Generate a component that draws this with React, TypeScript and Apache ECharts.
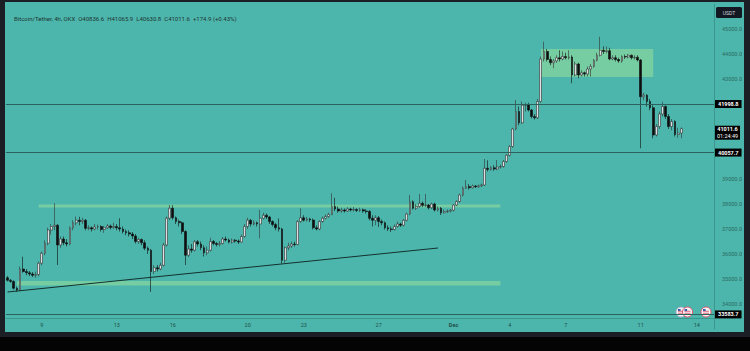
import React, { useEffect, useRef } from 'react';
import * as echarts from 'echarts';

// OHLC candles, 4h, each tuple = [open, close, low, high]
const nov07to10 = [
  [35050, 34950, 34900, 35120], [34950, 34900, 34850, 35000], [34900, 34630, 34580, 34950], [34630, 34560, 34480, 34700], [34560, 35400, 34520, 35500],
  [35400, 35300, 35250, 35890], [35300, 35250, 35150, 35400], [35250, 35200, 35120, 35320], [35200, 35150, 35080, 35280], [35150, 35180, 35050, 35300], [35180, 35630, 35100, 35700],
  [35630, 36030, 35550, 36100], [36030, 36430, 35950, 36550], [36430, 36960, 36350, 37050], [36960, 37100, 36780, 37200], [37100, 37150, 36950, 38030], [37150, 36360, 35560, 37200],
  [36360, 36600, 36250, 36700], [36600, 36450, 36350, 36700], [36450, 36400, 36300, 36600], [36400, 37050, 36350, 37100], [37050, 37250, 36950, 37350], [37250, 37350, 37150, 37500],
];
const nov11to14 = [
  [37350, 37300, 37150, 37490], [37300, 37350, 37200, 37450], [37350, 37030, 36950, 37400], [37030, 37050, 36950, 37150], [37050, 37000, 36900, 37100], [37000, 37080, 36950, 37200],
  [37080, 37100, 36980, 37180], [37100, 36980, 36900, 37150], [36980, 37050, 36850, 37120], [37050, 37120, 37000, 37200], [37120, 37060, 36980, 37180], [37060, 37100, 37000, 37250],
  [37100, 37050, 36950, 37200], [37050, 37000, 36900, 37430], [37000, 36900, 36820, 37100], [36900, 36850, 36750, 36980], [36850, 36800, 36700, 36950], [36800, 36720, 36600, 36880],
  [36720, 36500, 36420, 36800], [36500, 36580, 36400, 36650], [36580, 36450, 36350, 36620], [36450, 36230, 36150, 36550], [36230, 36150, 36000, 36300], [36150, 35300, 34490, 36200],
];
const nov15to18 = [
  [35300, 35450, 35200, 35550], [35450, 35400, 35300, 35560], [35400, 35550, 35350, 35650], [35550, 36360, 35500, 36450], [36360, 37430, 36300, 37500], [37430, 37830, 37350, 37960],
  [37830, 37450, 37380, 37950], [37450, 37300, 37200, 37500], [37300, 37250, 37100, 37380], [37250, 36900, 36800, 37300], [36900, 35950, 35560, 36950], [35950, 36200, 35880, 36350],
  [36200, 36150, 36050, 36400], [36150, 36490, 36100, 36560], [36490, 36400, 36300, 36560], [36400, 36250, 36150, 36500], [36250, 36050, 35900, 36350], [36050, 36150, 35950, 36300],
  [36150, 36500, 36100, 36650], [36500, 36420, 36350, 36560], [36420, 36380, 36300, 36480], [36380, 36420, 36300, 36520], [36420, 36600, 36380, 36680], [36600, 36560, 36500, 36700],
];
const nov19to22 = [
  [36560, 36480, 36420, 36620], [36480, 36550, 36420, 36620], [36550, 36520, 36450, 36600], [36520, 36480, 36400, 36580], [36480, 36700, 36450, 36780], [36700, 37100, 36650, 37200],
  [37100, 37350, 37000, 37450], [37350, 37200, 37100, 37400], [37200, 37250, 37150, 37350], [37250, 37200, 37100, 37300], [37200, 37430, 36630, 37760], [37430, 37550, 37380, 37650],
  [37550, 37480, 37400, 37620], [37480, 37300, 37200, 37520], [37300, 37180, 37100, 37350], [37180, 37050, 36950, 37250], [37050, 37000, 36900, 37420], [37000, 35750, 35620, 37050],
  [35750, 36250, 35650, 36300], [36250, 36320, 36150, 36450], [36320, 36400, 36250, 36500], [36400, 36380, 36300, 36500], [36380, 37300, 36350, 37350], [37300, 37450, 37250, 37830],
];
const nov23to26 = [
  [37450, 37350, 37300, 37550], [37350, 37400, 37300, 37480], [37400, 37360, 37280, 37450], [37360, 37050, 36980, 37420], [37050, 37000, 36950, 37150], [37000, 37300, 36950, 37350],
  [37300, 37430, 37250, 37500], [37430, 37500, 37380, 37580], [37500, 37580, 37450, 37650], [37580, 37900, 37550, 38430], [37900, 37800, 37720, 38250], [37800, 37720, 37650, 37900],
  [37720, 37760, 37650, 37850], [37760, 37720, 37660, 37820], [37720, 37800, 37680, 37870], [37800, 37760, 37700, 37850], [37760, 37780, 37700, 37880], [37780, 37740, 37680, 37830],
  [37740, 37770, 37680, 37850], [37770, 37720, 37650, 37820], [37720, 37700, 37620, 37790], [37700, 37430, 37350, 37760], [37430, 37350, 37100, 37550], [37350, 37450, 37150, 37550],
];
const nov27to30 = [
  [37450, 37300, 37080, 37520], [37300, 37250, 37150, 37380], [37250, 37050, 36980, 37300], [37050, 37000, 36920, 37150], [37000, 36980, 36880, 37100], [36980, 37100, 36940, 37180],
  [37100, 37200, 37050, 37300], [37200, 37150, 37080, 37250], [37150, 37350, 37100, 37400], [37350, 37600, 37300, 37650], [37600, 38090, 37550, 38360], [38090, 37830, 37780, 38150],
  [37830, 37900, 37760, 38000], [37900, 38030, 37850, 38400], [38030, 37950, 37880, 38100], [37950, 37960, 37880, 38400], [37960, 37850, 37780, 38000], [37850, 38000, 37800, 38050],
  [38000, 37760, 37700, 38050], [37760, 37830, 37700, 37900], [37830, 37650, 37560, 37880], [37650, 37700, 37620, 37780], [37700, 37720, 37640, 37780], [37720, 37750, 37660, 37800],
];
const dec01to04 = [
  [37750, 37960, 37700, 38000], [37960, 38100, 37920, 38150], [38100, 38360, 38050, 38420], [38360, 38630, 38300, 38700], [38630, 38700, 38600, 38960], [38700, 38650, 38580, 38800],
  [38650, 38720, 38620, 38780], [38720, 38690, 38640, 38760], [38690, 38730, 38650, 38780], [38730, 38760, 38680, 38820], [38760, 39430, 38720, 39800], [39430, 39380, 39300, 39750],
  [39380, 39450, 39330, 39520], [39450, 39400, 39330, 39550], [39400, 39480, 39350, 39760], [39480, 39500, 39420, 39580], [39500, 39700, 39450, 39760], [39700, 39950, 39650, 40000],
  [39950, 40300, 39900, 40350], [40300, 41000, 40250, 41050], [41000, 41700, 40950, 42160], [41700, 41250, 41150, 41900], [41250, 41950, 41200, 42100], [41950, 41960, 41700, 42050],
];
const dec05to08 = [
  [41960, 41760, 41700, 42050], [41760, 41500, 41420, 41800], [41500, 41450, 41380, 41600], [41450, 42100, 41400, 42200], [42100, 43800, 42050, 43900], [43800, 44100, 43700, 44490],
  [44100, 43780, 43700, 44200], [43780, 43650, 43550, 43900], [43650, 43720, 43430, 43800], [43720, 43850, 43650, 43950], [43850, 43800, 43700, 44150], [43800, 43900, 43750, 44100],
  [43900, 43850, 43780, 44050], [43850, 43880, 43780, 44150], [43880, 43160, 42830, 43950], [43160, 43600, 43100, 43700], [43600, 43160, 43030, 43650], [43160, 43250, 43100, 43350],
  [43250, 43200, 43100, 43300], [43200, 43400, 43100, 43500], [43400, 43500, 43100, 43600], [43500, 43750, 43450, 43800], [43750, 43950, 43700, 44050], [43950, 44150, 43900, 44690],
];
const dec09to13 = [
  [44150, 44100, 44000, 44300], [44100, 44130, 44030, 44300], [44130, 43800, 43750, 44250], [43800, 43850, 43750, 43950], [43850, 43780, 43700, 43950], [43780, 43720, 43650, 43850],
  [43720, 43900, 43650, 43950], [43900, 43880, 43800, 43980], [43880, 43950, 43830, 44000], [43950, 43850, 43780, 43980], [43850, 43870, 43780, 43950], [43870, 43760, 43700, 43950],
  [43760, 42290, 40230, 43800], [42290, 42350, 42150, 42450], [42350, 42100, 41900, 42400], [42100, 41850, 41750, 42200], [41850, 40760, 40630, 41950], [40760, 41100, 40700, 41200],
  [41100, 41600, 41000, 41700], [41600, 41900, 41500, 42090], [41900, 41500, 41400, 41950], [41500, 41100, 41000, 41600], [41100, 41300, 40950, 41400], [41300, 40780, 40700, 41350],
  [40780, 40836.6, 40650, 41050], [40836.6, 41011.6, 40630.8, 41065.9],
];

const header = 'Bitcoin/Tether, 4h, OKX  O40836.6  H41065.9  L40630.8  C41011.6  +174.9 (+0.43%)';
const priceLines = [41998.8, 40057.7, 33583.7];
const lastPrice = 41011.6;
const countdown = '01:24:49';
const hiddenPriceTicks = [33000, 40000, 41000, 42000, 46000];
const xTickKeys = ['11-09', '11-13', '11-16', '11-20', '11-23', '11-27', '12-01', '12-04', '12-07', '12-11', '12-14'];
const xTickText = ['9', '13', '16', '20', '23', '27', 'Dec', '4', '7', '11', '14'];
// zones: [startIndex, endIndex, upperPrice, lowerPrice]
const zones = [
  [10, 158, 37985, 37860],
  [3, 158, 34920, 34740],
  [171, 207, 44200, 43080],
];
// trendline: [index, price] pairs
const trendStart = [0, 34480];
const trendEnd = [138, 36240];

const TEAL = '#4db6ac';
const FONT = 'Roboto, "Liberation Sans", sans-serif';

function buildCategories(count: number) {
  const out: string[] = [];
  const start = Date.UTC(2023, 10, 7, 4);
  for (let i = 0; i < count; i++) {
    const d = new Date(start + i * 4 * 3600 * 1000);
    const mm = String(d.getUTCMonth() + 1).padStart(2, '0');
    const dd = String(d.getUTCDate()).padStart(2, '0');
    const hh = String(d.getUTCHours()).padStart(2, '0');
    out.push(`${mm}-${dd} ${hh}:00`);
  }
  return out;
}

export default function App() {
  const ref = useRef<HTMLDivElement>(null);
  useEffect(() => {
    const chart = echarts.init(ref.current!, null, { renderer: 'svg' });
    const candles = [
      ...nov07to10, ...nov11to14, ...nov15to18, ...nov19to22, ...nov23to26,
      ...nov27to30, ...dec01to04, ...dec05to08, ...dec09to13,
    ];
    const categories = buildCategories(227);
    const tickLabel = (v: string) => {
      if (!v.endsWith(' 00:00')) return '';
      const k = xTickKeys.indexOf(v.slice(0, 5));
      return k < 0 ? '' : xTickText[k];
    };

    const option: any = {
      animation: false,
      backgroundColor: TEAL,
      title: {
        text: header,
        left: 9,
        top: 10,
        textStyle: { fontSize: 6, fontWeight: 'normal', color: '#1d3533', fontFamily: FONT },
      },
      grid: { left: 6, right: 36, top: 4, bottom: 22, containLabel: false },
      xAxis: {
        type: 'category',
        data: categories,
        boundaryGap: true,
        offset: -11,
        axisLine: { show: true, lineStyle: { color: '#3b968d', width: 1 } },
        axisTick: { show: false },
        splitLine: { show: false },
        axisLabel: {
          interval: (_i: number, v: string) => tickLabel(v) !== '',
          formatter: (v: string) => {
            const t = tickLabel(v);
            return t === 'Dec' ? '{b|Dec}' : t;
          },
          fontSize: 5.5,
          color: '#1f4f4a',
          fontFamily: FONT,
          margin: 4,
          rich: { b: { fontWeight: 'bold', fontSize: 5.5, color: '#1f4f4a', fontFamily: FONT } },
        },
      },
      yAxis: {
        type: 'value',
        position: 'right',
        min: 33000,
        max: 46000,
        interval: 1000,
        axisLine: { show: true, lineStyle: { color: '#3b968d', width: 1 } },
        axisTick: { show: false },
        splitLine: { show: false },
        axisLabel: {
          formatter: (v: number) => (hiddenPriceTicks.includes(v) ? '' : v.toFixed(1)),
          fontSize: 5.5,
          color: '#2a6a63',
          fontFamily: FONT,
          margin: 8,
        },
      },
      series: [
        {
          type: 'line',
          data: [],
          z: 1,
          silent: true,
          markArea: {
            silent: true,
            itemStyle: { color: 'rgba(170, 232, 150, 0.45)' },
            label: { show: false },
            data: zones.map((z) => [
              { coord: [categories[z[0]], z[2]] },
              { coord: [categories[z[1]], z[3]] },
            ]),
          },
        },
        {
          type: 'candlestick',
          data: candles,
          z: 3,
          barWidth: 2.3,
          itemStyle: {
            color: '#dcdfe2',
            color0: '#0e0e0e',
            borderColor: '#333333',
            borderColor0: '#0e0e0e',
            borderWidth: 0.6,
          },
        },
        {
          type: 'line',
          data: [],
          z: 5,
          silent: true,
          markLine: {
            silent: true,
            symbol: 'none',
            animation: false,
            data: [
              ...priceLines.map((v) => ({
                yAxis: v,
                lineStyle: { color: '#2b625d', width: 1, type: 'solid' },
                label: {
                  show: true,
                  position: 'end',
                  distance: 1,
                  formatter: v.toFixed(1),
                  color: '#ffffff',
                  backgroundColor: '#000000',
                  padding: [1, 3],
                  fontSize: 5.5,
                  fontWeight: 'bold',
                  fontFamily: FONT,
                },
              })),
              [
                {
                  coord: [categories[trendStart[0]], trendStart[1]],
                  lineStyle: { color: '#14302d', width: 1, type: 'solid' },
                  label: { show: false },
                },
                { coord: [categories[trendEnd[0]], trendEnd[1]] },
              ],
            ],
          },
        },
      ],
    };
    chart.setOption(option);

    const yp = chart.convertToPixel({ yAxisIndex: 0 }, lastPrice) as number;
    const flag = (cx: number, cy: number, r: number, ring: string) => ({
      type: 'group',
      z: 100,
      children: [
        { type: 'circle', shape: { cx, cy, r }, style: { fill: '#f6f3f7', stroke: ring, lineWidth: 1 } },
        { type: 'rect', shape: { x: cx - 3, y: cy - 1.2, width: 6, height: 0.8 }, style: { fill: '#d8475b' } },
        { type: 'rect', shape: { x: cx - 3, y: cy + 0.8, width: 6, height: 0.8 }, style: { fill: '#d8475b' } },
        { type: 'rect', shape: { x: cx - 3, y: cy - 3, width: 2.6, height: 2 }, style: { fill: '#3c5aa8' } },
      ],
    });
    chart.setOption({
      graphic: [
        { type: 'rect', z: 100, shape: { x: 0, y: 0, width: 5, height: 351 }, style: { fill: '#1b1e24' } },
        { type: 'rect', z: 100, shape: { x: 0, y: 0, width: 750, height: 2 }, style: { fill: '#1b1e24' } },
        { type: 'rect', z: 100, shape: { x: 744, y: 0, width: 6, height: 351 }, style: { fill: '#1b1e24' } },
        { type: 'rect', z: 100, shape: { x: 0, y: 332, width: 750, height: 5 }, style: { fill: '#1b1e24' } },
        { type: 'rect', z: 100, shape: { x: 0, y: 337, width: 750, height: 14 }, style: { fill: '#040404' } },
        {
          type: 'group',
          z: 100,
          children: [
            { type: 'rect', shape: { x: 716, y: 7, width: 26, height: 11, r: 1.5 }, style: { fill: '#131722' } },
            { type: 'text', style: { x: 729, y: 12.5, text: 'USDT', fill: '#d1d4dc', fontSize: 5, fontFamily: FONT, align: 'center', verticalAlign: 'middle' } },
          ],
        },
        {
          type: 'group',
          z: 100,
          children: [
            { type: 'rect', shape: { x: 715, y: yp - 3, width: 25, height: 14 }, style: { fill: '#000000' } },
            { type: 'text', style: { x: 727.5, y: yp + 0.5, text: lastPrice.toFixed(1), fill: '#ffffff', fontSize: 5.5, fontWeight: 'bold', fontFamily: FONT, align: 'center', verticalAlign: 'middle' } },
            { type: 'text', style: { x: 727.5, y: yp + 7, text: countdown, fill: '#ffffff', fontSize: 5.5, fontFamily: FONT, align: 'center', verticalAlign: 'middle' } },
          ],
        },
        flag(681, 312, 4.8, '#c9b6d6'),
        flag(687.5, 312, 5, '#e2556b'),
        flag(706, 312, 5, '#e2556b'),
      ],
    });

    return () => chart.dispose();
  }, []);
  return <div ref={ref} style={{ position: 'fixed', left: 0, top: 0, width: 750, height: 351 }} />;
}
